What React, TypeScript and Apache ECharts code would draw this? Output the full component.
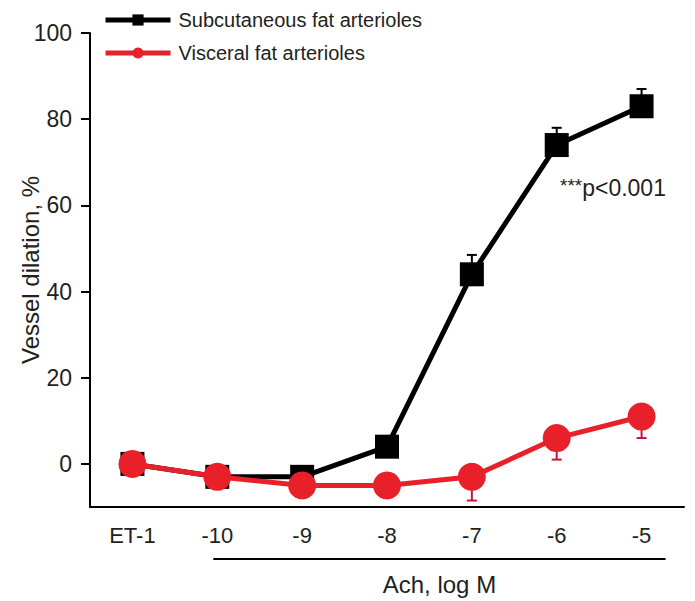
import React, { useEffect, useRef } from "react";
import * as echarts from "echarts";

const categories = ["ET-1", "-10", "-9", "-8", "-7", "-6", "-5"];
const subcutaneous = [0, -3, -3, 4, 44, 74, 83];
const subcutaneousErrTop: (number | null)[] = [null, null, null, null, 48.5, 78, 87];
const visceral = [0, -3, -5, -5, -3, 6, 11];
const visceralErrBottom: (number | null)[] = [null, null, null, null, -8.5, 1, 6];
const yTicks = [0, 20, 40, 60, 80, 100];

const FONT = "Liberation Sans, Arial, Helvetica, sans-serif";
const TXT = "#231f20";
const RED = "#e8202a";

function errData(vals: number[], errs: (number | null)[]) {
  const out: number[][] = [];
  errs.forEach((e, i) => {
    if (e !== null) out.push([i, vals[i], e]);
  });
  return out;
}

function errSeries(name: string, data: number[][], color: string) {
  return {
    type: "custom",
    name,
    z: 1,
    silent: true,
    data,
    renderItem: (params: any, api: any) => {
      const p0 = api.coord([api.value(0), api.value(1)]);
      const p1 = api.coord([api.value(0), api.value(2)]);
      const hw = 5;
      return {
        type: "group",
        children: [
          { type: "line", shape: { x1: p0[0], y1: p0[1], x2: p1[0], y2: p1[1] }, style: { stroke: color, lineWidth: 2 } },
          { type: "line", shape: { x1: p1[0] - hw, y1: p1[1], x2: p1[0] + hw, y2: p1[1] }, style: { stroke: color, lineWidth: 2 } },
        ],
      };
    },
  };
}

export default function App() {
  const ref = useRef<HTMLDivElement>(null);
  useEffect(() => {
    if (!ref.current) return;
    const chart = echarts.init(ref.current, null, { renderer: "svg" });
    chart.setOption({
      animation: false,
      backgroundColor: "#fff",
      textStyle: { fontFamily: FONT },
      grid: { left: 90, right: 11, top: 33, bottom: 94, containLabel: false, outerBoundsMode: "none" },
      legend: {
        orient: "vertical",
        left: 103,
        top: 10,
        padding: 0,
        itemWidth: 65,
        itemHeight: 14,
        itemGap: 13,
        lineStyle: { width: 5 },
        data: ["Subcutaneous fat arterioles", "Visceral fat arterioles"],
        textStyle: { fontSize: 20, color: TXT, fontFamily: FONT, lineHeight: 20, padding: [0, 0, 0, 3] },
      },
      xAxis: {
        type: "category",
        data: categories,
        boundaryGap: true,
        axisLine: { onZero: false, lineStyle: { color: "#000", width: 2 } },
        axisTick: { alignWithLabel: true, length: 8, lineStyle: { color: "#000", width: 2 } },
        axisLabel: { fontSize: 22, color: TXT, margin: 17, fontFamily: FONT },
        splitLine: { show: false },
      },
      yAxis: {
        type: "value",
        min: -10,
        max: 100,
        name: "Vessel dilation, %",
        nameLocation: "middle",
        nameRotate: 90,
        nameGap: 48,
        nameMoveOverlap: false,
        nameTextStyle: { fontSize: 24, color: TXT, fontFamily: FONT },
        axisLine: { show: true, lineStyle: { color: "#000", width: 2 } },
        axisTick: { show: true, length: 9, customValues: yTicks, lineStyle: { color: "#000", width: 2 } },
        axisLabel: { fontSize: 23, color: TXT, margin: 18, customValues: yTicks, fontFamily: FONT },
        splitLine: { show: false },
      },
      series: [
        errSeries("subErr", errData(subcutaneous, subcutaneousErrTop), "#000"),
        errSeries("visErr", errData(visceral, visceralErrBottom), "#c4163a"),
        {
          type: "line",
          name: "Subcutaneous fat arterioles",
          data: subcutaneous,
          z: 2,
          symbol: "rect",
          symbolSize: 24,
          itemStyle: { color: "#000" },
          lineStyle: { color: "#000", width: 5 },
        },
        {
          type: "line",
          name: "Visceral fat arterioles",
          data: visceral,
          z: 3,
          symbol: "circle",
          symbolSize: 28,
          itemStyle: { color: RED },
          lineStyle: { color: RED, width: 5 },
        },
      ],
    });
    const xa = chart.convertToPixel({ xAxisIndex: 0 }, "-10") as number;
    const xb = chart.convertToPixel({ xAxisIndex: 0 }, "-5") as number;
    const x1 = xa - 4;
    const x2 = xb + 24;
    chart.setOption({
      graphic: [
        { type: "line", shape: { x1, y1: 559, x2, y2: 559 }, style: { stroke: "#000", lineWidth: 2 } },
        {
          type: "text",
          x: (x1 + x2) / 2,
          y: 584,
          style: { text: "Ach, log M", fontSize: 24, fill: TXT, fontFamily: FONT, align: "center", verticalAlign: "middle" },
        },
        {
          type: "text",
          x: 560,
          y: 188,
          style: {
            text: "{s|***}{p|p<0.001}",
            rich: {
              s: { fontSize: 19, fill: TXT, fontFamily: FONT, verticalAlign: "top", padding: [0, 0, 6, 0] },
              p: { fontSize: 23, fill: TXT, fontFamily: FONT },
            },
            verticalAlign: "middle",
          },
        },
      ],
    });
    return () => chart.dispose();
  }, []);
  return <div ref={ref} style={{ width: 695, height: 601, position: "absolute", left: 0, top: 0 }} />;
}
